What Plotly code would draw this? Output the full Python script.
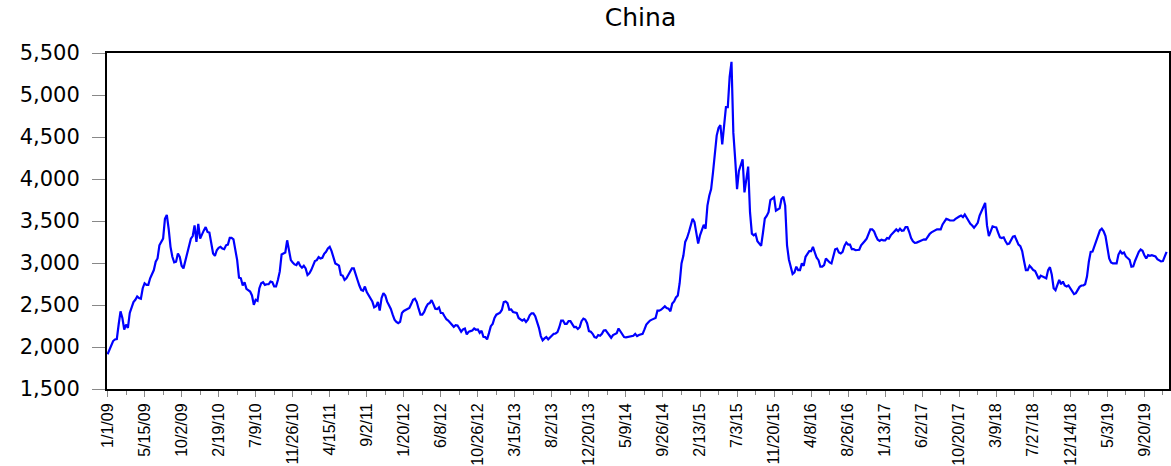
import plotly.graph_objects as go

# Weekly index closes, grouped by calendar year (first week labelled 1/1/09)
close_2009 = [1914, 1973, 2032, 2071, 2090, 2094, 2268, 2425, 2346, 2208,
              2267, 2228, 2405, 2484, 2535, 2562, 2602, 2582, 2574, 2700,
              2759, 2740, 2740, 2818, 2877, 2916, 3015, 3054, 3211, 3251,
              3290, 3526, 3573, 3408, 3192, 3074, 3007, 3015, 3113, 3074,
              2968, 2936, 3034, 3113, 3211, 3290, 3321, 3447, 3251, 3467,
              3290, 3349, 3388]
close_2010 = [3428, 3369, 3361, 3231, 3113, 3086, 3152,
              3180, 3192, 3172, 3164, 3211, 3219, 3298, 3298, 3282, 3172,
              3034, 2826, 2818, 2732, 2771, 2692, 2680, 2661, 2614, 2503,
              2562, 2551, 2700, 2759, 2771, 2740, 2747, 2747, 2779, 2771,
              2720, 2720, 2798, 2897, 3101, 3109, 3125, 3270, 3133, 3034,
              3007, 2983, 2975, 3015, 2968, 2944]
close_2011 = [2968, 2936, 2857, 2877,
              2916, 2968, 3023, 3034, 3070, 3054, 3062, 3109, 3133, 3172,
              3192, 3141, 3062, 2995, 2983, 2968, 2857, 2850, 2798, 2818,
              2857, 2897, 2936, 2936, 2877, 2798, 2732, 2680, 2669, 2720,
              2653, 2621, 2590, 2543, 2472, 2484, 2535, 2433, 2582, 2641,
              2614, 2540, 2498, 2452, 2385, 2326, 2299, 2283]
close_2012 = [2299, 2405,
              2429, 2444, 2456, 2464, 2511, 2562, 2574, 2535, 2456, 2385,
              2385, 2417, 2472, 2511, 2523, 2558, 2511, 2456, 2452, 2472,
              2405, 2405, 2366, 2330, 2315, 2287, 2268, 2240, 2260, 2256,
              2220, 2181, 2209, 2220, 2149, 2181, 2189, 2197, 2220, 2205,
              2209, 2169, 2193, 2122, 2118, 2091, 2165, 2248, 2275, 2346]
close_2013 = [2385, 2393, 2409, 2444, 2535, 2543, 2523, 2444, 2448, 2417,
              2413, 2405, 2346, 2326, 2315, 2330, 2299, 2326, 2378, 2401,
              2401, 2366, 2299, 2228, 2130, 2079, 2102, 2118, 2091, 2110,
              2134, 2157, 2161, 2177, 2236, 2315, 2315, 2275, 2275, 2307,
              2307, 2267, 2236, 2238, 2215, 2236, 2307, 2338, 2326, 2283,
              2189, 2181]
close_2014 = [2157, 2118, 2110, 2142, 2134, 2157, 2197, 2201,
              2169, 2142, 2110, 2142, 2149, 2165, 2220, 2181, 2142, 2118,
              2114, 2118, 2126, 2130, 2134, 2157, 2130, 2142, 2149, 2157,
              2209, 2267, 2291, 2315, 2326, 2334, 2346, 2433, 2433, 2444,
              2464, 2484, 2464, 2456, 2425, 2517, 2543, 2590, 2614, 2759,
              2995, 3086, 3251, 3298]
close_2015 = [3369, 3447, 3526, 3487, 3330, 3231,
              3330, 3408, 3455, 3408, 3683, 3801, 3880, 4077, 4273, 4517,
              4608, 4643, 4411, 4608, 4856, 4856, 5217, 5394, 4549, 4234,
              3880, 4096, 4175, 4234, 3841, 3979, 4148, 3605, 3349, 3330,
              3345, 3259, 3235, 3204, 3360, 3530, 3560, 3605, 3750, 3770,
              3782, 3624, 3644, 3652, 3762, 3790]
close_2016 = [3683, 3211, 3042, 2956,
              2869, 2889, 2956, 2916, 2916, 2995, 2968, 3074, 3117, 3141,
              3141, 3192, 3125, 3062, 3034, 2956, 2956, 2975, 3054, 3023,
              3007, 2995, 3093, 3164, 3172, 3125, 3113, 3133, 3203, 3243,
              3219, 3219, 3164, 3164, 3152, 3152, 3158, 3211, 3243, 3262,
              3290, 3345, 3400, 3400, 3377, 3322, 3278, 3262, 3278]
close_2017 = [3270,
              3270, 3298, 3290, 3329, 3349, 3377, 3400, 3380, 3408, 3384,
              3388, 3428, 3428, 3369, 3298, 3258, 3239, 3243, 3251, 3258,
              3270, 3282, 3278, 3321, 3345, 3365, 3377, 3388, 3400, 3400,
              3400, 3459, 3502, 3526, 3518, 3506, 3506, 3506, 3526, 3546,
              3554, 3565, 3546, 3577, 3538, 3506, 3467, 3447, 3420, 3447,
              3479]
close_2018 = [3565, 3613, 3676, 3715, 3447, 3321, 3377, 3436, 3428,
              3424, 3361, 3306, 3298, 3306, 3258, 3223, 3231, 3270, 3314,
              3321, 3266, 3219, 3200, 3141, 3023, 2916, 2916, 2968, 2944,
              2916, 2905, 2865, 2810, 2850, 2842, 2830, 2818, 2916, 2950,
              2860, 2700, 2677, 2740, 2798, 2747, 2779, 2732, 2720, 2732,
              2700, 2669, 2629]
close_2019 = [2641, 2688, 2716, 2732, 2732, 2747, 2838,
              3015, 3133, 3137, 3203, 3251, 3330, 3388, 3408, 3377, 3321,
              3172, 3054, 3007, 2995, 2995, 2995, 3101, 3141, 3113, 3125,
              3078, 3058, 3038, 2956, 2960, 3027, 3086, 3133, 3160, 3145,
              3093, 3054, 3093, 3086, 3093, 3086, 3078, 3046, 3027, 3019,
              3023, 3074, 3133]

# Date labels shown every 20 observations
tick_labels = ["1/1/09", "5/15/09", "10/2/09", "2/19/10", "7/9/10", "11/26/10",
               "4/15/11", "9/2/11", "1/20/12", "6/8/12", "10/26/12", "3/15/13",
               "8/2/13", "12/20/13", "5/9/14", "9/26/14", "2/13/15", "7/3/15",
               "11/20/15", "4/8/16", "8/26/16", "1/13/17", "6/2/17", "10/20/17",
               "3/9/18", "7/27/18", "12/14/18", "5/3/19", "9/20/19"]
y_ticks = [1500, 2000, 2500, 3000, 3500, 4000, 4500, 5000, 5500]

values = (close_2009 + close_2010 + close_2011 + close_2012 + close_2013 +
          close_2014 + close_2015 + close_2016 + close_2017 + close_2018 +
          close_2019)
obs = list(range(len(values)))
tick_pos = [20 * k for k in range(len(tick_labels))]

fig = go.Figure()
fig.add_trace(go.Scatter(
    x=obs, y=values, mode="lines",
    line=dict(color="#0000FF", width=2.2),
    hoverinfo="x+y", showlegend=False,
))

fig.update_layout(
    width=1171, height=466,
    margin=dict(l=107, r=0, t=53, b=74),
    paper_bgcolor="white", plot_bgcolor="white",
    title=dict(text="China", x=0.547, xanchor="center", y=0.963, yanchor="middle",
               font=dict(family="DejaVu Sans, sans-serif", size=25, color="black")),
)
fig.update_xaxes(
    range=[-0.3, 573.3],
    tickmode="array", tickvals=tick_pos, ticktext=tick_labels,
    tickangle=-90,
    tickfont=dict(family="Liberation Sans, Arial, sans-serif", size=16, color="black"),
    ticks="outside", ticklen=6, tickcolor="#888888", tickwidth=1,
    minor=dict(ticks="outside", tick0=10, dtick=20, ticklen=4, tickcolor="#888888"),
    showline=True, linecolor="black", linewidth=2, mirror=True,
    showgrid=False, zeroline=False,
)
fig.update_yaxes(
    range=[1500, 5500],
    tickmode="array", tickvals=y_ticks,
    ticktext=[f"{v:,}" for v in y_ticks],
    tickfont=dict(family="DejaVu Sans, sans-serif", size=21, color="black"),
    ticks="outside", ticklen=13, tickcolor="#888888", tickwidth=1,
    ticklabelstandoff=8,
    showline=True, linecolor="black", linewidth=2, mirror=True,
    showgrid=False, zeroline=False,
)

fig.write_html("out.html")
